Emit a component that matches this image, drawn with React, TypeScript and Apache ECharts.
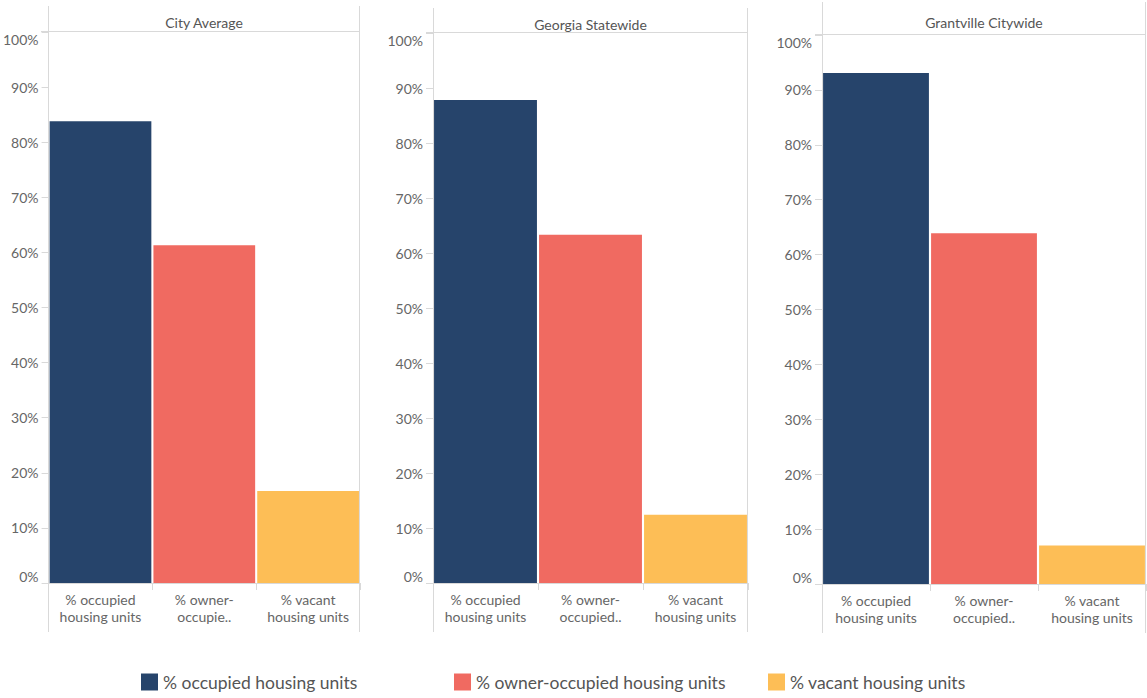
import React, { useEffect, useRef } from "react";
import * as echarts from "echarts";

const panelTitles = ["City Average", "Georgia Statewide", "Grantville Citywide"];
const seriesNames = ["% occupied housing units", "% owner-occupied housing units", "% vacant housing units"];
const categoryLabels = [
  ["% occupied\nhousing units", "% owner-\noccupie..", "% vacant\nhousing units"],
  ["% occupied\nhousing units", "% owner-\noccupied..", "% vacant\nhousing units"],
  ["% occupied\nhousing units", "% owner-\noccupied..", "% vacant\nhousing units"],
];
// values per panel: City Average, Georgia Statewide, Grantville Citywide
const occupied = [83.8, 87.8, 93.1];
const ownerOccupied = [61.3, 63.3, 63.9];
const vacant = [16.7, 12.4, 7.0];
const values = [occupied, ownerOccupied, vacant];
const colors = ["#26446b", "#f06a61", "#fdbe56"];

const W = 1147;
const H = 698;
// panel layout: plot left, plot right, plot top, baseline, border top, border bottom, title centre
const layout = [
  { l: 48, r: 360, t: 32, b: 583, bt: 6, bb: 632, tc: 22 },
  { l: 433, r: 748, t: 33, b: 583, bt: 8, bb: 632, tc: 24 },
  { l: 822, r: 1146, t: 35, b: 584, bt: 2, bb: 633, tc: 22 },
];
const legendLeft = [141, 454, 768];

const FONT = "Lato, 'Open Sans', sans-serif";
const LINE = "#d9d9d9";

export default function App() {
  const ref = useRef<HTMLDivElement>(null);
  useEffect(() => {
    if (!ref.current) return;
    const chart = echarts.init(ref.current, null, { renderer: "svg" });
    const grids = layout.map((p) => ({
      left: p.l,
      width: p.r - p.l,
      top: p.t,
      height: p.b - p.t,
      containLabel: false,
    }));
    const xAxes = layout.map((_, i) => ({
      type: "category",
      gridIndex: i,
      data: categoryLabels[i],
      axisLine: { show: true, lineStyle: { color: LINE, width: 1 } },
      axisTick: { show: true, length: 7, lineStyle: { color: LINE } },
      axisLabel: {
        color: "#666",
        fontFamily: FONT,
        fontSize: 14,
        lineHeight: 17,
        margin: 8,
        interval: 0,
      },
    }));
    const yAxes = layout.map((_, i) => ({
      type: "value",
      gridIndex: i,
      min: 0,
      max: 100,
      interval: 10,
      axisLine: { show: false },
      axisTick: { show: true, length: 7, lineStyle: { color: LINE } },
      splitLine: { show: false },
      axisLabel: {
        color: "#666",
        fontFamily: FONT,
        fontSize: 14,
        margin: 10,
        formatter: "{value}%",
        verticalAlignMinLabel: "bottom",
        verticalAlignMaxLabel: "top",
      },
    }));
    const series: any[] = [];
    layout.forEach((_, i) => {
      seriesNames.forEach((name, j) => {
        series.push({
          type: "bar",
          name,
          xAxisIndex: i,
          yAxisIndex: i,
          data: categoryLabels[i].map((_c, k) => (k === j ? values[j][i] : "-")),
          barWidth: "98%",
          barGap: "-100%",
          itemStyle: { color: colors[j] },
        });
      });
    });
    const graphic: any[] = [];
    layout.forEach((p) => {
      graphic.push({
        type: "line",
        shape: { x1: p.l + 0.5, y1: p.bt, x2: p.l + 0.5, y2: p.bb },
        style: { stroke: LINE, lineWidth: 1 },
        silent: true,
      });
      graphic.push({
        type: "line",
        shape: { x1: p.r - 0.5, y1: p.bt, x2: p.r - 0.5, y2: p.bb },
        style: { stroke: LINE, lineWidth: 1 },
        silent: true,
      });
      graphic.push({
        type: "line",
        shape: { x1: p.l - 7, y1: p.t - 0.5, x2: p.r, y2: p.t - 0.5 },
        style: { stroke: LINE, lineWidth: 1 },
        silent: true,
      });
    });
    const titles = panelTitles.map((t, i) => ({
      text: t,
      left: (layout[i].l + layout[i].r) / 2,
      top: layout[i].tc - 9,
      textAlign: "center",
      padding: 0,
      textStyle: { color: "#555", fontFamily: FONT, fontSize: 14, fontWeight: "normal", lineHeight: 18 },
    }));
    const legends = seriesNames.map((n, i) => ({
      data: [n],
      left: legendLeft[i],
      top: 673,
      icon: "rect",
      itemWidth: 17,
      itemHeight: 17,
      itemGap: 6,
      padding: 0,
      textStyle: { color: "#555", fontFamily: FONT, fontSize: 17.5, padding: [2, 0, 0, 0] },
      selectedMode: false,
    }));
    chart.setOption({
      animation: false,
      backgroundColor: "#fff",
      title: titles,
      legend: legends,
      grid: grids,
      xAxis: xAxes,
      yAxis: yAxes,
      series,
      graphic,
    });
    return () => chart.dispose();
  }, []);
  return (
    <div
      ref={ref}
      style={{ position: "absolute", left: 0, top: 0, width: W, height: H }}
    />
  );
}
